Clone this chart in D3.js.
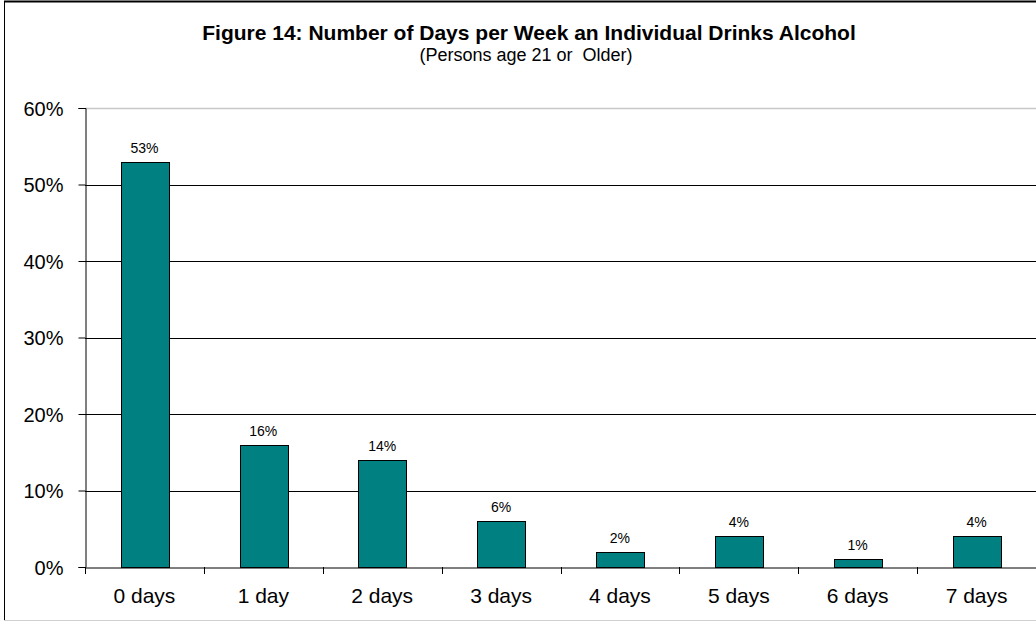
<!DOCTYPE html>
<html><head><meta charset="utf-8">
<script src="https://cdn.jsdelivr.net/npm/d3@7"></script>
<style>body{margin:0;background:#fff}svg{display:block}text{font-family:"Liberation Sans",Arial,sans-serif}</style>
</head><body>
<svg id="c" width="1036" height="623"></svg>
<script>
const categories = ["0 days","1 day","2 days","3 days","4 days","5 days","6 days","7 days"];
const values = [53,16,14,6,2,4,1,4];
const yTicks = [0,10,20,30,40,50,60];
const title = "Figure 14: Number of Days per Week an Individual Drinks Alcohol";
const subtitle = "(Persons age 21 or  Older)";

const svg = d3.select("#c");
const W = 1036, H = 623;
const m = {left:85, right:0, top:108, bottom:56};
const xb = d3.scaleBand().domain(categories).range([m.left, W - m.right]);
const y = d3.scaleLinear().domain([0,60]).range([H - m.bottom, m.top]);

// frame
svg.append("line").attr("x1",4).attr("x2",W).attr("y1",1.5).attr("y2",1.5).attr("stroke","#000").attr("stroke-width",2);
svg.append("line").attr("x1",4.5).attr("x2",4.5).attr("y1",1).attr("y2",620).attr("stroke","#000");
svg.append("line").attr("x1",4).attr("x2",W).attr("y1",620.5).attr("y2",620.5).attr("stroke","#d0d0d0");

// gridlines
svg.append("g").selectAll("line").data(yTicks.filter(t=>t>0)).join("line")
  .attr("x1",m.left).attr("x2",W).attr("y1",d=>Math.round(y(d))+0.5).attr("y2",d=>Math.round(y(d))+0.5)
  .attr("stroke",d=>d===60?"#c8c8c8":"#000").attr("stroke-width",d=>d===60?1.5:1);

// bars
svg.append("g").selectAll("rect").data(values).join("rect")
  .attr("x",(d,i)=>Math.round(xb(categories[i]) + xb.bandwidth()*0.3)+0.5)
  .attr("width",Math.round(xb.bandwidth()*0.4))
  .attr("y",d=>Math.round(y(d))+0.5)
  .attr("height",d=>Math.round(y(0))-Math.round(y(d)))
  .attr("fill","#008080").attr("stroke","#000").attr("stroke-width",1);

// data labels
svg.append("g").selectAll("text").data(values).join("text")
  .attr("x",(d,i)=>xb(categories[i])+xb.bandwidth()/2)
  .attr("y",d=>y(d)-9)
  .attr("text-anchor","middle").attr("font-size",14).attr("fill","#000")
  .text(d=>d+"%");

// y axis
const ya = svg.append("g").attr("transform",`translate(${m.left+0.5},0)`)
  .call(d3.axisLeft(y).tickValues(yTicks).tickFormat(d=>d+"%").tickSizeOuter(0).tickSize(7).tickPadding(15));
ya.select(".domain").attr("stroke","#000");
ya.selectAll("text").attr("font-size",20).attr("font-family","Liberation Sans, Arial, sans-serif").attr("fill","#000").attr("dy","0.35em");

// x axis
const xa = svg.append("g").attr("transform",`translate(0,${Math.round(y(0))+0.5})`)
  .call(d3.axisBottom(xb).tickSize(0).tickPadding(21));
xa.select(".domain").attr("stroke","#000");
xa.selectAll("text").attr("font-size",21).attr("font-family","Liberation Sans, Arial, sans-serif").attr("fill","#000");
svg.append("g").selectAll("line").data(categories).join("line")
  .attr("x1",d=>Math.round(xb(d))+0.5).attr("x2",d=>Math.round(xb(d))+0.5)
  .attr("y1",y(0)).attr("y2",y(0)+7).attr("stroke","#000");

// titles
svg.append("text").attr("x",529).attr("y",40).attr("text-anchor","middle")
  .attr("font-size",21).attr("font-weight","bold").text(title);
svg.append("text").attr("x",526).attr("y",61).attr("text-anchor","middle")
  .attr("font-size",18).style("white-space","pre").text(subtitle);
</script>
</body></html>
